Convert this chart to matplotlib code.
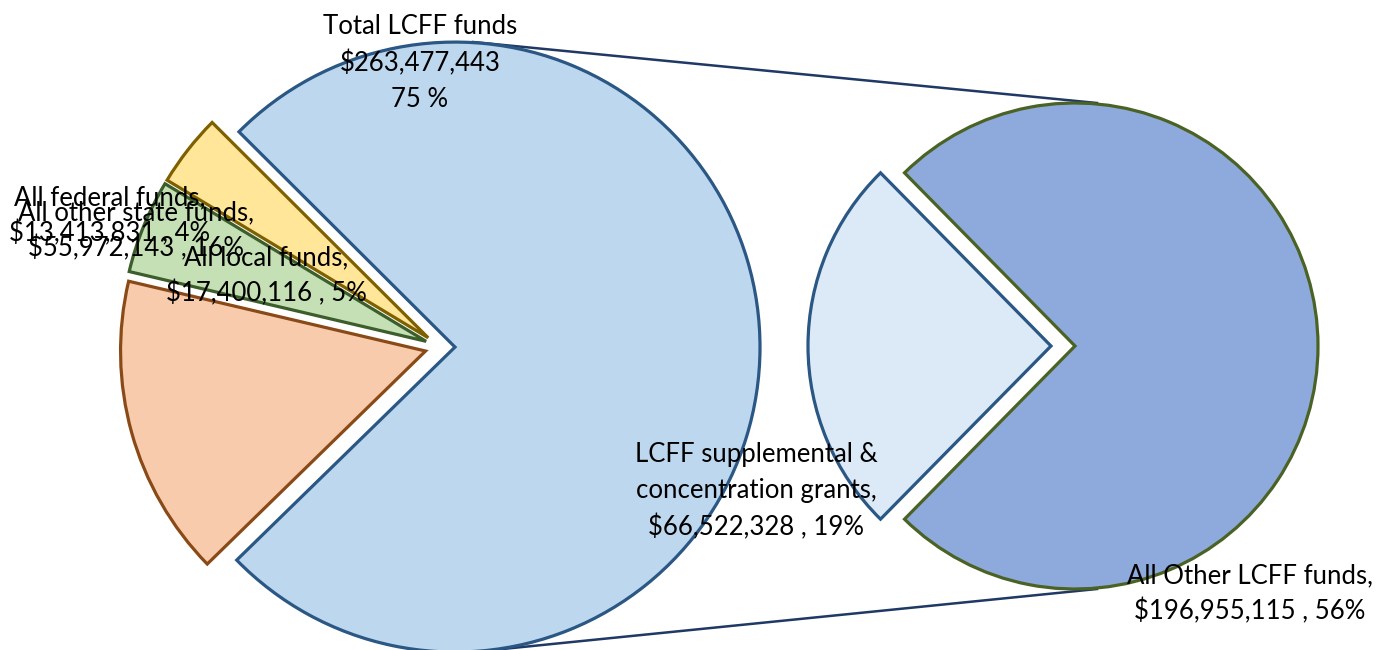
import matplotlib
matplotlib.use("Agg")
import matplotlib.pyplot as plt
import numpy as np

# ---- data ----
left_labels = ["Total LCFF funds", "All federal funds", "All local funds", "All other state funds"]
left_values = [263477443, 13413831, 17400116, 55972143]
right_labels = ["LCFF supplemental & concentration grants", "All Other LCFF funds"]
right_values = [66522328, 196955115]

left_fill = ["#BDD7EE", "#FFE699", "#C5E0B4", "#F8CBAD"]
left_edge = ["#2A5783", "#7F6000", "#3B5E2B", "#8A4A17"]
right_fill = ["#DCE9F6", "#8EA9DB"]
right_edge = ["#2A5783", "#4A6324"]

W, H = 1390, 650
fig = plt.figure(figsize=(W / 100, H / 100), dpi=100)
ax = fig.add_axes([0, 0, 1, 1])


def P(px, py):
    """pixel position (from top-left) to data coords"""
    return (px, H - py)


total = sum(left_values)
lcff_frac = left_values[0] / total
lc = P(440, 347)
lr = 305
start_left = -(lcff_frac * 360) / 2 - 0.3
wl, _ = ax.pie(left_values, colors=left_fill, startangle=start_left, counterclock=True,
               radius=lr, center=lc, explode=[15] * 4, frame=True,
               wedgeprops=dict(linewidth=2.3))
for w, ec in zip(wl, left_edge):
    w.set_edgecolor(ec)

rc = P(1075, 346)
rr = 243
sub_frac = right_values[0] / sum(right_values)
start_right = 180 - sub_frac * 360 / 2
wr, _ = ax.pie(right_values, colors=right_fill, startangle=start_right, counterclock=True,
               radius=rr, center=rc, explode=[24, 0], frame=True,
               wedgeprops=dict(linewidth=2.3))
for w, ec in zip(wr, right_edge):
    w.set_edgecolor(ec)
ax.set_xlim(0, W)
ax.set_ylim(0, H)
ax.set_aspect("equal")
ax.axis("off")

# connector lines
ltop = (lc[0] + 15 + 18, lc[1] + lr)
lbot = (lc[0] + 15 + 18, lc[1] - lr)
rtop = (rc[0] + 22, rc[1] + rr)
rbot = (rc[0] + 22, rc[1] - rr)
ax.plot([ltop[0], rtop[0]], [ltop[1], rtop[1]], color="#1F3864", lw=1.8, zorder=0.5)
ax.plot([lbot[0], rbot[0]], [lbot[1], rbot[1]], color="#1F3864", lw=1.8, zorder=0.5)

font = "Lato"
fs = 18.5


def money(v):
    return "${:,}".format(v)


def label(px, py, s, ls):
    x, y = P(px, py)
    ax.text(x, y, s, ha="center", va="center", fontsize=fs, family=font,
            linespacing=ls, color="black")


pct = [round(v / total * 100) for v in left_values]
label(420, 63, f"{left_labels[0]}\n{money(left_values[0])}\n{pct[0]} %", 1.55)
label(110, 216, f"{left_labels[1]},\n{money(left_values[1])} , {pct[1]}%", 1.45)
label(136, 231, f"{left_labels[3]},\n{money(left_values[3])} , {pct[3]}%", 1.45)
label(266, 276, f"{left_labels[2]},\n{money(left_values[2])} , {pct[2]}%", 1.45)

rp = [round(v / total * 100) for v in right_values]
label(756, 491, "LCFF supplemental &\nconcentration grants,\n" + f"{money(right_values[0])} , {rp[0]}%", 1.55)
label(1250, 594, f"{right_labels[1]},\n{money(right_values[1])} , {rp[1]}%", 1.45)

fig.savefig("out.png", dpi=100)
